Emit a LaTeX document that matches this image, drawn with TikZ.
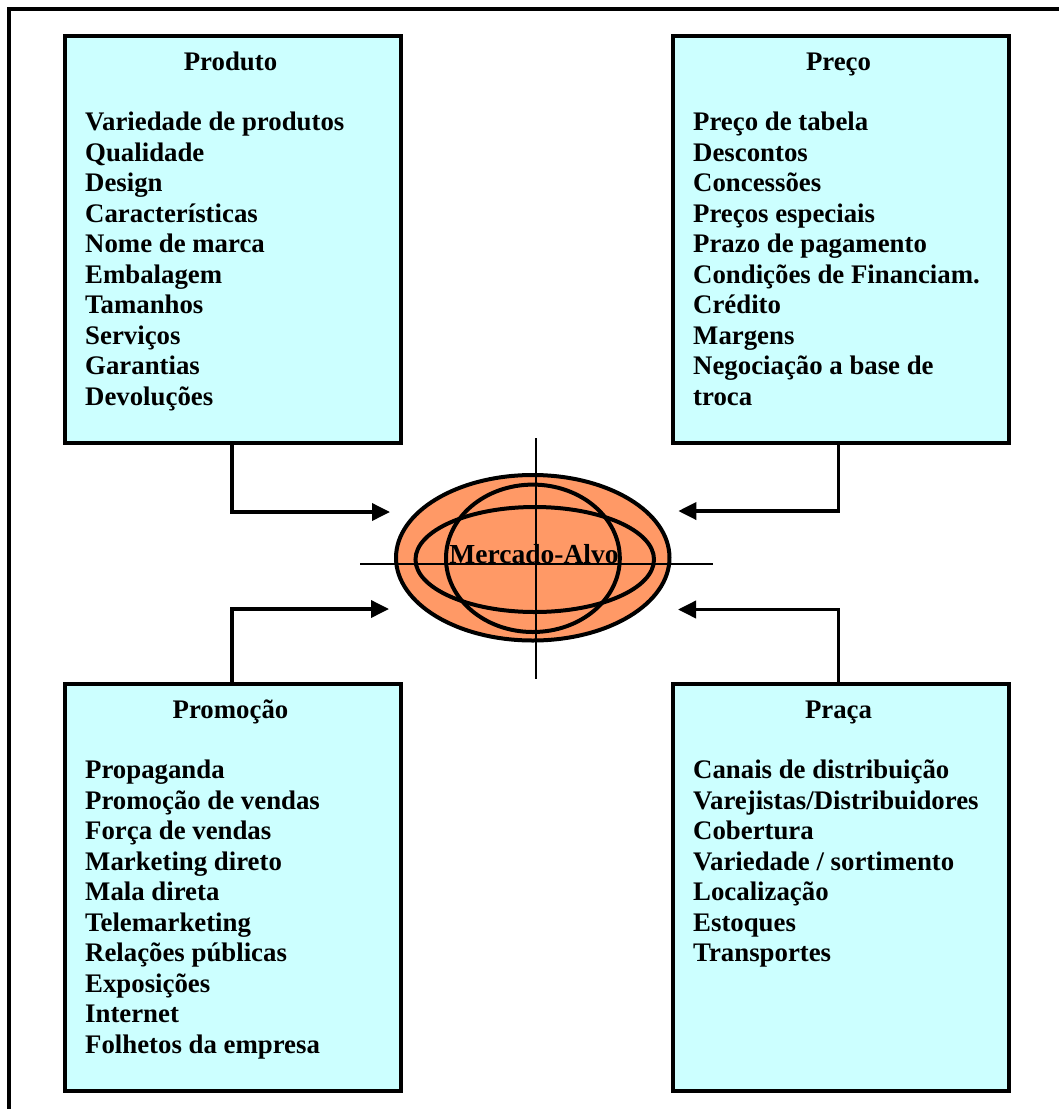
\documentclass[tikz,border=0pt]{standalone}
\usepackage{fontspec}
\setmainfont{Liberation Serif}
\usetikzlibrary{arrows.meta,shapes.geometric}
\definecolor{panelfill}{HTML}{CCFFFF}
\definecolor{targetfill}{HTML}{FF9966}
\newcommand\panelfont{\fontsize{26.8}{30.56}\selectfont\bfseries}
\begin{document}
\begin{tikzpicture}[x=1pt,y=-1pt,
  panel/.style={draw, line width=4pt, fill=panelfill, inner sep=0pt,
    anchor=north west, minimum width=336pt, minimum height=407.5pt},
  paneltitle/.style={anchor=base, inner sep=0pt, font=\panelfont},
  % lists are placed by the baseline of their last line
  panelitems/.style={anchor=base west, align=left, inner sep=0pt, font=\panelfont},
  link/.style={line width=3.6pt, -{Triangle[length=18pt,width=17pt]}},
  ring/.style={ellipse, draw, line width=4pt, inner sep=0pt},
  axis/.style={line width=2pt},
]
\useasboundingbox (0,0) rectangle (1059,1109);

% outer frame (runs off the right and bottom edges)
\draw[line width=4pt] (9,1120) -- (9,9) -- (1070,9);

% the four panels
\node[panel] (prod)  at (62.5,33.5)  {};
\node[panel] (preco) at (670.5,33.5) {};
\node[panel] (promo) at (62.5,681.5) {};
\node[panel] (praca) at (670.5,681.5) {};

\node[paneltitle] (prodT)  at (230.5,70)  {Produto};
\node[paneltitle] (precoT) at (838.5,70)  {Preço};
\node[paneltitle] (promoT) at (230.5,718) {Promoção};
\node[paneltitle] (pracaT) at (838.5,718) {Praça};

\node[panelitems] (prodL) at (85,405.5) {Variedade de produtos\\Qualidade\\Design\\Características\\Nome de marca\\Embalagem\\Tamanhos\\Serviços\\Garantias\\Devoluções};
\node[panelitems] (precoL) at (693,405.5) {Preço de tabela\\Descontos\\Concessões\\Preços especiais\\Prazo de pagamento\\Condições de Financiam.\\Crédito\\Margens\\Negociação a base de\\troca};
\node[panelitems] (promoL) at (85,1053.5) {Propaganda\\Promoção de vendas\\Força de vendas\\Marketing direto\\Mala direta\\Telemarketing\\Relações públicas\\Exposições\\Internet\\Folhetos da empresa};
\node[panelitems] (pracaL) at (693,961.9) {Canais de distribuição\\Varejistas/Distribuidores\\Cobertura\\Variedade / sortimento\\Localização\\Estoques\\Transportes};

% target market emblem
\node[ring, fill=targetfill, minimum width=273.5pt, minimum height=165.5pt] (outer) at (532.75,557.75) {};
\node[ring, minimum width=238.5pt, minimum height=105pt] (band) at (534.75,559.5) {};
\node[ring, minimum width=173.8pt, minimum height=147.4pt] (globe) at (532.9,558.3) {};
\coordinate (vtop) at (536,438);
\coordinate (vbot) at (536,679);
\coordinate (hleft) at (360,564);
\coordinate (hright) at (713,564);
\draw[axis] (vtop) -- (vbot);
\draw[axis] (hleft) -- (hright);
\node[inner sep=0pt, anchor=base, font=\fontsize{27.5}{30}\selectfont\bfseries] (target) at (534,563) {Mercado-Alvo};

% connectors into the emblem
\coordinate (prodX) at (232,0);
\coordinate (precoX) at (838.3,0);
\coordinate (tipNW) at (390,512);
\coordinate (tipNE) at (678.3,511);
\coordinate (tipSW) at (389,609);
\coordinate (tipSE) at (678,609.5);
\draw[link] (prod.south -| prodX) |- (tipNW);
\draw[link] (preco.south -| precoX) |- (tipNE);
\draw[link] (promo.north -| prodX) |- (tipSW);
\draw[link] (praca.north -| precoX) |- (tipSE);
\end{tikzpicture}
\end{document}
